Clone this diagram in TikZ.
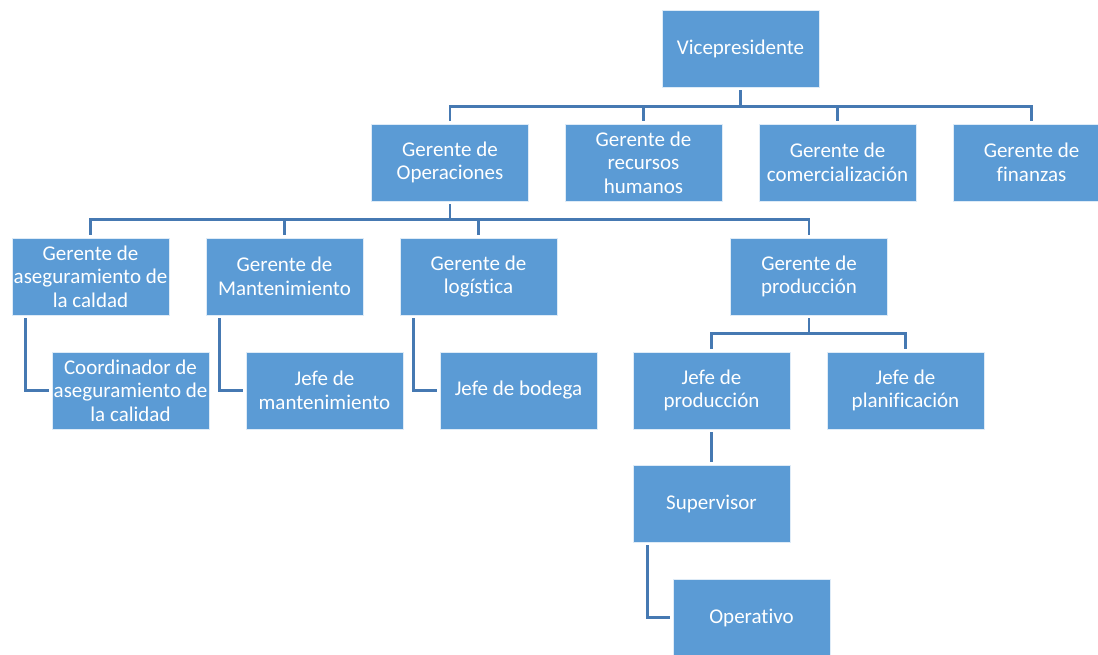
\documentclass[tikz,border=0pt]{standalone}
\usepackage{fontspec}
\setmainfont[Ligatures=NoCommon]{Carlito}
\definecolor{boxblue}{HTML}{5B9BD5}
\definecolor{linkblue}{HTML}{4679B2}
\tikzset{
  unit/.style={rectangle, draw=white!80!boxblue, line width=0.8pt, fill=boxblue,
    text=white, minimum width=157pt, minimum height=77pt, inner sep=0pt,
    align=center, font=\fontsize{21}{23.5}\selectfont},
  link/.style={draw=linkblue, line width=2.6pt, line join=miter,
    shorten <=3pt, shorten >=3pt}
}
\begin{document}
\begin{tikzpicture}[x=1pt,y=-1pt]
\useasboundingbox (0,0) rectangle (1098,654);

% top level
\node[unit] (vp) at (740.5,48.5) {Vicepresidente};

% direct reports of the vice-president
\node[unit] (ops)  at (450,162.5)    {Gerente de\\Operaciones};
\node[unit] (rrhh) at (643.5,162.5)  {Gerente de\\recursos\\humanos};
\node[unit] (com)  at (837.5,162.5)  {Gerente de\\comercialización};
\node[unit] (fin)  at (1031.5,162.5) {Gerente de\\finanzas};

% operations managers
\node[unit] (aseg) at (90.5,276.5)  {Gerente de\\aseguramiento de\\la caldad};
\node[unit] (mant) at (284.5,276.5) {Gerente de\\Mantenimiento};
\node[unit] (log)  at (478.5,276.5) {Gerente de\\logística};
\node[unit] (prod) at (809,276.5)   {Gerente de\\producción};

% fourth level
\node[unit] (coord) at (130.5,390.5) {Coordinador de\\aseguramiento de\\la calidad};
\node[unit] (jmant) at (324.5,390.5) {Jefe de\\mantenimiento};
\node[unit] (bod)   at (518.5,390.5) {Jefe de bodega};
\node[unit] (jprod) at (711.5,390.5) {Jefe de\\producción};
\node[unit] (plan)  at (905.5,390.5) {Jefe de\\planificación};

% production line
\node[unit] (sup) at (711.5,503.5) {Supervisor};
\node[unit] (op)  at (751.5,617.5) {Operativo};

% connectors: vice-president bus
\foreach \c in {ops,rrhh,com,fin}
  \draw[link] (vp.south) -- ++(0,19) -| (\c.north);

% connectors: operations bus
\foreach \c in {aseg,mant,log,prod}
  \draw[link] (ops.south) -- ++(0,18) -| (\c.north);

% side connectors to single subordinates
\draw[link] ([xshift=14pt]aseg.south west) |- (coord.west);
\draw[link] ([xshift=14pt]mant.south west) |- (jmant.west);
\draw[link] ([xshift=14pt]log.south west)  |- (bod.west);

% production manager bus
\foreach \c in {jprod,plan}
  \draw[link] (prod.south) -- ++(0,18) -| (\c.north);

\draw[link] (jprod.south) -- (sup.north);
\draw[link] ([xshift=15pt]sup.south west) |- (op.west);
\end{tikzpicture}
\end{document}
